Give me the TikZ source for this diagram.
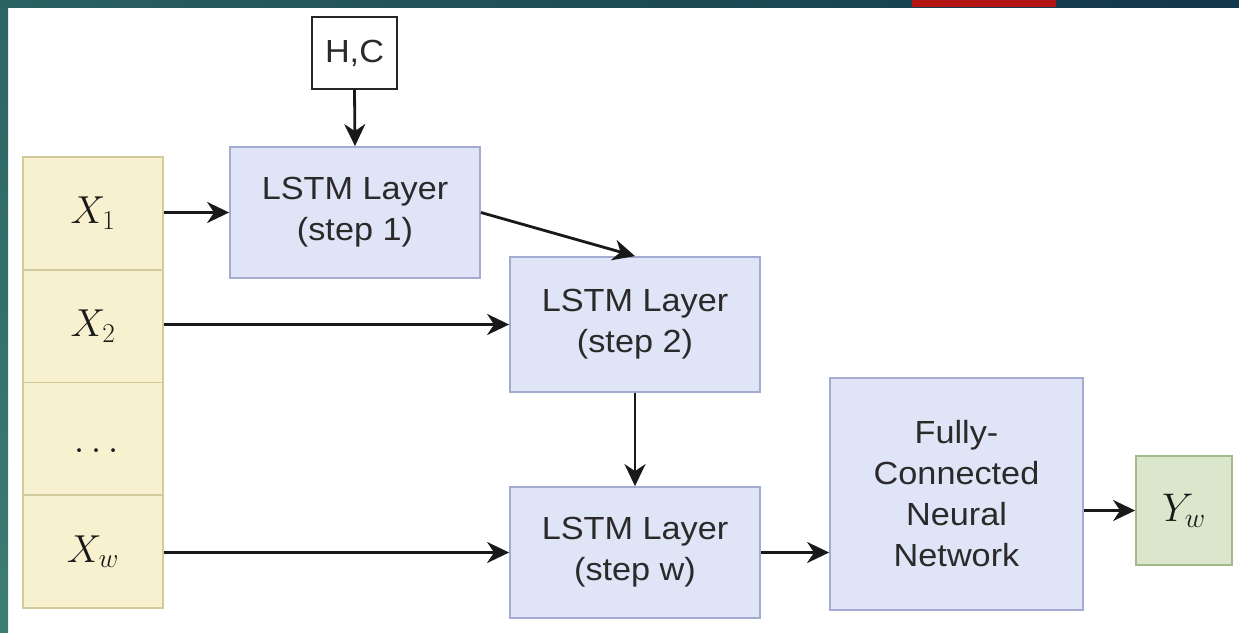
\RequirePackage{fix-cm}
\documentclass[tikz,border=0pt]{standalone}
\usepackage[no-math]{fontspec}
\setmainfont[FakeStretch=1.07]{Liberation Sans}
\usetikzlibrary{arrows.meta}
\definecolor{xfill}{HTML}{F7F1CF}
\definecolor{xline}{HTML}{D3CB9C}
\definecolor{lfill}{HTML}{DFE4F6}
\definecolor{lline}{HTML}{A3ABD0}
\definecolor{gfill}{HTML}{DAE7CD}
\definecolor{gline}{HTML}{A2B98E}
\definecolor{txt}{HTML}{2A2A2A}
\definecolor{barA}{HTML}{2A6262}
\definecolor{barB}{HTML}{215B64}
\definecolor{barC}{HTML}{12364A}
\definecolor{barRed}{HTML}{B31515}
\definecolor{sideA}{HTML}{2B6464}
\definecolor{sideB}{HTML}{3C7D73}
\tikzset{
  xcell/.style={draw=xline, fill=xfill, line width=1.8pt, minimum width=140pt, minimum height=112.75pt, inner sep=0pt, text=black!90, font=\fontsize{39}{44}\selectfont},
  lbox/.style={draw=lline, fill=lfill, line width=1.8pt, minimum width=250pt, inner sep=0pt, align=center, text=txt, font=\fontsize{32}{41}\selectfont},
  gbox/.style={draw=gline, fill=gfill, line width=1.8pt, minimum width=96pt, minimum height=109pt, inner sep=0pt, text=black!90, font=\fontsize{40}{44}\selectfont},
  hcbox/.style={draw=black!85, fill=white, line width=2pt, minimum width=85pt, minimum height=72pt, inner sep=0pt, text=txt, font=\fontsize{32}{40}\selectfont},
  conn/.style={line width=2.8pt, draw=black!90, -{Stealth[length=22pt, width=21pt, inset=7pt]}}
}
\begin{document}
\begin{tikzpicture}[x=1pt, y=-1pt]
\useasboundingbox (0,0) rectangle (1239,632);
\fill[white] (0,0) rectangle (1239,632);
\shade[top color=sideA, bottom color=sideB] (0,0) rectangle (8,632);
\shade[left color=barA, middle color=barB, right color=barC] (0,0) rectangle (1239,7);
\fill[barRed] (912,0) rectangle (1056,7);

\node[xcell] (x1) at (93,213.4) {$X_1$};
\node[xcell] (x2) at (93,326.1) {$X_2$};
\node[xcell] (xd) at (93,438.9) {$\vphantom{X}\ldots$};
\node[xcell] (xw) at (93,551.6) {$X_w$};

\node[hcbox] (hc) at (354.5,53) {H,C};
\node[lbox, minimum height=131pt] (l1) at (355,212.5) {LSTM Layer\\(step 1)};
\node[lbox, minimum height=135pt] (l2) at (635,324.5) {LSTM Layer\\(step 2)};
\node[lbox, minimum height=131pt] (lw) at (635,552.5) {LSTM Layer\\(step w)};
\node[lbox, minimum width=253pt, minimum height=232pt] (fc) at (956.5,494) {Fully-\\Connected\\Neural\\Network};
\node[gbox] (yw) at (1184,510.5) {$Y_w$};

\draw[conn] (hc.south) -- (l1.north);
\draw[conn] (x1.east |- l1.west) -- (l1.west);
\draw[conn] (x2.east |- l2.west) -- (l2.west);
\draw[conn] (xw.east |- lw.west) -- (lw.west);
\draw[conn] (l1.east) -- (l2.north);
\draw[conn] (l2.south) -- (lw.north);
\draw[conn] (lw.east) -- (lw.east -| fc.west);
\draw[conn] (yw.west -| fc.east) -- (yw.west);
\end{tikzpicture}
\end{document}
